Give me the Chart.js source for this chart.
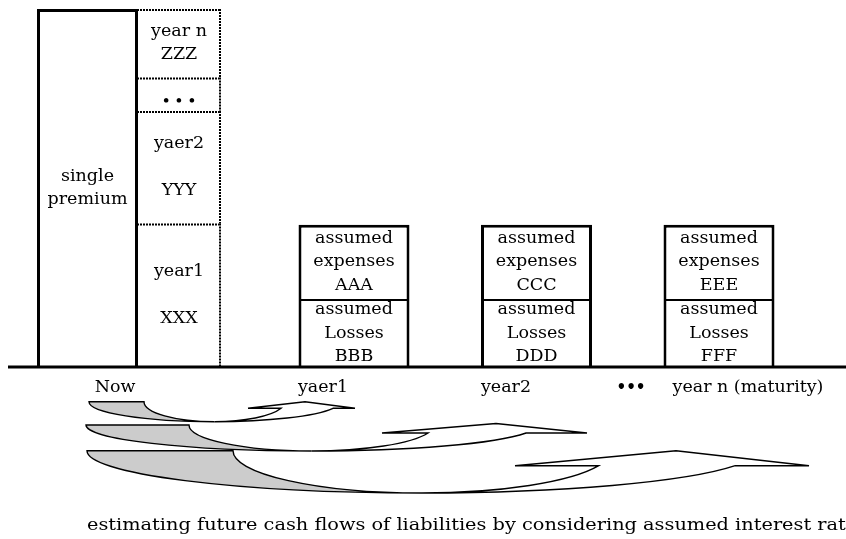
<!DOCTYPE html>
<html>
<head>
<meta charset="utf-8">
<script src="https://cdn.jsdelivr.net/npm/chart.js@4.4.1/dist/chart.umd.min.js"></script>
<style>
  html, body { margin: 0; padding: 0; background: #fff; }
  #wrap { width: 846px; height: 539px; }
</style>
</head>
<body>
<div id="wrap"><canvas id="chart" width="846" height="539"></canvas></div>
<script>
// values (single premium = 100)
const axisLabels = ["Now", "yaer1", "year2", "\u2022\u2022\u2022", "year n (maturity)"];
const premiumText = [["single", "premium"]];
const premiumValues = [100];
const yearText = [["year1", "", "XXX"], ["yaer2", "", "YYY"], ["\u2022 \u2022 \u2022"], ["year n", "ZZZ"]];
const yearValues = [40.1, 31.4, 9.4, 19.1];
const lossText = [["assumed", "Losses", "BBB"], ["assumed", "Losses", "DDD"], ["assumed", "Losses", "FFF"]];
const lossValues = [19, 19, 19];
const expenseText = [["assumed", "expenses", "AAA"], ["assumed", "expenses", "CCC"], ["assumed", "expenses", "EEE"]];
const expenseValues = [20.7, 20.7, 20.7];
const caption = "estimating future cash flows of liabilities by considering assumed interest rates";

// layout (x axis runs in page pixels)
const W = 846, H = 539;
const baseY = 367, unitPx = 3.58;
const premiumX = 87.5, premiumW = 101;
const yearX = 179, yearW = 84;
const boxX = [354, 536.5, 719];
const boxW = 111;
const labelX = [115, 323, 506, 631, 748];
const FONT = "'DejaVu Serif', 'Liberation Serif', serif";

// curved arrows from "Now" to each year
const arrows = [
  { cx: 214.5, rxA: 125.5, rxB: 70.5, top: 401.7, ry: 20, headY: 408.3, headL: 248, headR: 355, apexX: 305, apexY: 401.7 },
  { cx: 311.5, rxA: 225.5, rxB: 122.5, top: 425, ry: 26, headY: 433, headL: 382, headR: 587, apexX: 496, apexY: 423.5 },
  { cx: 422, rxA: 335, rxB: 189, top: 450.7, ry: 42.3, headY: 465.7, headL: 515, headR: 809, apexX: 676, apexY: 450.7 }
];

function stackUp(vals) {
  let s = 0;
  return vals.map((v) => [s, (s += v)]);
}

const yearRanges = stackUp(yearValues);

// wide serif look: draw text with a small horizontal stretch
function wideText(ctx, t, x, y, sx) {
  ctx.save();
  ctx.translate(x, y);
  ctx.scale(sx, 1);
  ctx.fillText(t, 0, 0);
  ctx.restore();
}

const cellText = {
  id: "cellText",
  afterDatasetsDraw(chart) {
    const ctx = chart.ctx;
    const xs = chart.scales.x;
    const ys = chart.scales.y;
    ctx.save();

    // dotted outline of the yearly column
    const meta = chart.getDatasetMeta(1);
    ctx.strokeStyle = "#000";
    ctx.lineWidth = 2;
    ctx.setLineDash([2, 1]);
    meta.data.forEach((el) => {
      const l = el.x - el.width / 2, r = el.x + el.width / 2;
      ctx.beginPath();
      ctx.moveTo(l, el.y + 1);
      ctx.lineTo(r, el.y + 1);
      ctx.moveTo(r - 1, el.y);
      ctx.lineTo(r - 1, el.base);
      ctx.stroke();
    });
    ctx.setLineDash([]);

    // text inside the cells
    ctx.fillStyle = "#000";
    ctx.textAlign = "center";
    ctx.textBaseline = "middle";
    const lh = 23.5;
    chart.data.datasets.forEach((ds, di) => {
      const m = chart.getDatasetMeta(di);
      m.data.forEach((el, i) => {
        const lines = ds.cellLines[i];
        const cy = (el.y + el.base) / 2;
        const y0 = cy - ((lines.length - 1) * lh) / 2;
        lines.forEach((t, k) => {
          if (t.startsWith("\u2022")) {
            ctx.font = "bold 13px " + FONT;
            wideText(ctx, t, el.x, y0 + k * lh + 7, 1);
          } else {
            ctx.font = "17.5px " + FONT;
            wideText(ctx, t, el.x, y0 + k * lh, 1);
          }
        });
      });
    });

    // base line
    const y0 = ys.getPixelForValue(0);
    ctx.lineWidth = 3;
    ctx.beginPath();
    ctx.moveTo(xs.getPixelForValue(8), y0);
    ctx.lineTo(xs.getPixelForValue(W), y0);
    ctx.stroke();

    // time labels
    ctx.textBaseline = "alphabetic";
    axisLabels.forEach((t, i) => {
      if (t.startsWith("\u2022")) {
        ctx.font = "bold 16px " + FONT;
        wideText(ctx, t, xs.getPixelForValue(labelX[i]), 392, 0.95);
      } else {
        ctx.font = "16px " + FONT;
        wideText(ctx, t, xs.getPixelForValue(labelX[i]), 392, 1.09);
      }
    });

    // arrows
    ctx.lineWidth = 1.4;
    arrows.forEach((a) => {
      const th = Math.asin((a.headY - a.top) / a.ry);
      ctx.beginPath();
      ctx.moveTo(a.cx - a.rxA, a.top);
      ctx.lineTo(a.cx - a.rxB, a.top);
      ctx.ellipse(a.cx, a.top, a.rxB, a.ry, 0, Math.PI, Math.PI / 2, true);
      ctx.ellipse(a.cx, a.top, a.rxA, a.ry, 0, Math.PI / 2, Math.PI, false);
      ctx.closePath();
      ctx.fillStyle = "#cccccc";
      ctx.fill();
      ctx.stroke();

      ctx.beginPath();
      ctx.moveTo(a.cx, a.top + a.ry);
      ctx.ellipse(a.cx, a.top, a.rxA, a.ry, 0, Math.PI / 2, th, true);
      ctx.lineTo(a.headR, a.headY);
      ctx.lineTo(a.apexX, a.apexY);
      ctx.lineTo(a.headL, a.headY);
      ctx.lineTo(a.cx + a.rxB * Math.cos(th), a.headY);
      ctx.ellipse(a.cx, a.top, a.rxB, a.ry, 0, th, Math.PI / 2, false);
      ctx.closePath();
      ctx.fillStyle = "#fff";
      ctx.fill();
      ctx.stroke();
    });

    // caption
    ctx.fillStyle = "#000";
    ctx.textAlign = "left";
    ctx.font = "17px " + FONT;
    wideText(ctx, caption, 87, 530, 1.136);
    ctx.restore();
  }
};

const solid = { top: 3, left: 3, right: 3, bottom: 0 };

new Chart(document.getElementById("chart"), {
  type: "bar",
  data: {
    datasets: [
      {
        label: "single premium",
        data: premiumValues.map((v) => ({ x: premiumX, y: [0, v] })),
        cellLines: premiumText,
        barThickness: premiumW,
        backgroundColor: "#fff",
        borderColor: "#000",
        borderWidth: solid,
      },
      {
        label: "premium by year",
        data: yearRanges.map((r) => ({ x: yearX, y: r })),
        cellLines: yearText,
        barThickness: yearW,
        backgroundColor: "#fff",
        borderColor: "#000",
        borderWidth: 0,
      },
      {
        label: "assumed losses",
        data: lossValues.map((v, i) => ({ x: boxX[i], y: [0, v] })),
        cellLines: lossText,
        barThickness: boxW,
        backgroundColor: "#fff",
        borderColor: "#000",
        borderWidth: { top: 2, left: 3, right: 3, bottom: 0 },
      },
      {
        label: "assumed expenses",
        data: expenseValues.map((v, i) => ({ x: boxX[i], y: [lossValues[i], lossValues[i] + v] })),
        cellLines: expenseText,
        barThickness: boxW,
        backgroundColor: "#fff",
        borderColor: "#000",
        borderWidth: solid,
      },
    ],
  },
  options: {
    responsive: false,
    animation: false,
    events: [],
    layout: { padding: 0 },
    datasets: {
      bar: {
        grouped: false,
        borderSkipped: false,
        inflateAmount: 0,
      },
    },
    scales: {
      x: { type: "linear", min: 0, max: W, offset: false, display: false },
      y: { type: "linear", min: -(H - baseY) / unitPx, max: baseY / unitPx, display: false },
    },
    plugins: { legend: { display: false }, tooltip: { enabled: false }, colors: { enabled: false } },
  },
  plugins: [cellText],
});
</script>
</body>
</html>
